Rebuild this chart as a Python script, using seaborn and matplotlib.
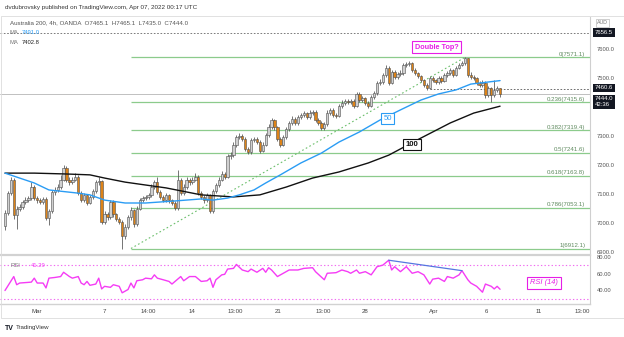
import numpy as np
import pandas as pd
import matplotlib
matplotlib.use("Agg")
import matplotlib.pyplot as plt
import seaborn as sns
from matplotlib.patches import Rectangle

sns.set_theme(style="white")
plt.rcParams['font.family'] = ['Liberation Sans', 'DejaVu Sans']

# ---------------- data (4h bars, index 0 = first visible bar) ----------------
first_open = 6990.0
closes = [7035, 7103, 7150, 7028, 7050, 7055, 7072, 7080, 7085, 7125,
          7085, 7080, 7072, 7082, 7018, 7040, 7107, 7115, 7125, 7150,
          7190, 7150, 7140, 7150, 7160, 7105, 7080, 7095, 7070, 7090,
          7110, 7140, 7145, 7005, 7030, 7020, 7072, 7030, 7015, 7005,
          6955, 6985, 7020, 7045, 6995, 7050, 7079, 7085, 7090, 7095,
          7125, 7142, 7107, 7090, 7080, 7095, 7079, 7070, 7052, 7150,
          7105, 7125, 7148, 7140, 7150, 7160, 7105, 7090, 7079, 7095,
          7040, 7110, 7130, 7150, 7170, 7160, 7230, 7235, 7270, 7295,
          7300, 7290, 7255, 7245, 7285, 7290, 7280, 7250, 7270, 7303,
          7330, 7355, 7330, 7290, 7270, 7297, 7325, 7345, 7360, 7345,
          7365, 7372, 7378, 7365, 7380, 7382, 7355, 7345, 7328, 7340,
          7380, 7390, 7372, 7370, 7405, 7415, 7420, 7418, 7420, 7405,
          7445, 7425, 7430, 7415, 7405, 7435, 7448, 7483, 7486, 7510,
          7535, 7483, 7520, 7503, 7514, 7517, 7545, 7548, 7550, 7528,
          7517, 7507, 7493, 7476, 7466, 7500, 7493, 7486, 7500, 7490,
          7510, 7517, 7528, 7510, 7535, 7545, 7552, 7569, 7510, 7505,
          7500, 7483, 7476, 7483, 7441, 7466, 7441, 7460, 7465.1, 7444]
highs = [7045, 7112, 7160, 7156, 7058, 7066, 7080, 7088, 7094, 7140,
         7130, 7092, 7086, 7090, 7088, 7048, 7115, 7124, 7134, 7165,
         7200, 7195, 7158, 7160, 7172, 7165, 7112, 7104, 7100, 7098,
         7118, 7148, 7160, 7150, 7040, 7038, 7080, 7078, 7036, 7020,
         7010, 6995, 7028, 7055, 7050, 7058, 7086, 7094, 7098, 7104,
         7134, 7150, 7160, 7114, 7096, 7104, 7100, 7084, 7076, 7183,
         7156, 7134, 7160, 7155, 7160, 7172, 7166, 7112, 7096, 7104,
         7100, 7118, 7138, 7158, 7180, 7176, 7238, 7245, 7278, 7305,
         7312, 7306, 7296, 7262, 7292, 7298, 7296, 7286, 7278, 7310,
         7340, 7362, 7360, 7336, 7296, 7305, 7332, 7352, 7368, 7366,
         7372, 7380, 7386, 7384, 7388, 7390, 7388, 7362, 7350, 7348,
         7388, 7398, 7395, 7380, 7412, 7424, 7428, 7428, 7428, 7426,
         7452, 7450, 7438, 7436, 7420, 7442, 7456, 7490, 7495, 7518,
         7545, 7540, 7528, 7526, 7522, 7526, 7552, 7556, 7558, 7555,
         7534, 7522, 7512, 7498, 7482, 7508, 7506, 7498, 7508, 7506,
         7518, 7525, 7536, 7532, 7542, 7552, 7560, 7571.1, 7570, 7522,
         7512, 7504, 7490, 7492, 7488, 7474, 7470, 7493, 7472, 7465.1]
lows = [6976, 7028, 7095, 7015, 6980, 7040, 7048, 7064, 7074, 7078,
        7078, 7070, 7064, 7066, 7010, 6993, 7035, 7098, 7108, 7118,
        7145, 7142, 7132, 7134, 7144, 7098, 7072, 7074, 7062, 7064,
        7084, 7105, 7132, 6998, 6996, 7010, 7014, 7022, 7006, 6996,
        6912.1, 6945, 6978, 7012, 6985, 6990, 7044, 7072, 7078, 7084,
        7088, 7118, 7100, 7082, 7072, 7074, 7070, 7062, 7044, 7046,
        7098, 7098, 7118, 7132, 7134, 7144, 7098, 7082, 7070, 7072,
        7034, 7036, 7104, 7124, 7144, 7152, 7154, 7222, 7228, 7262,
        7288, 7282, 7248, 7238, 7238, 7278, 7272, 7242, 7244, 7264,
        7296, 7324, 7322, 7282, 7262, 7264, 7290, 7318, 7338, 7338,
        7338, 7358, 7366, 7358, 7358, 7372, 7348, 7338, 7320, 7322,
        7334, 7372, 7365, 7362, 7364, 7398, 7408, 7410, 7410, 7398,
        7400, 7418, 7418, 7408, 7396, 7400, 7428, 7442, 7476, 7480,
        7504, 7476, 7478, 7496, 7498, 7508, 7512, 7538, 7540, 7520,
        7510, 7500, 7486, 7468, 7460, 7462, 7486, 7478, 7480, 7484,
        7486, 7504, 7512, 7504, 7506, 7530, 7540, 7546, 7504, 7498,
        7492, 7476, 7468, 7470, 7432, 7436, 7417, 7436, 7452, 7435]

# moving averages (bar index, value)
ma50_bars = [0, 5, 10, 15, 25, 29, 34, 41, 48, 58, 67, 71, 76, 80, 85, 89, 94,
             101, 108, 114, 121, 128, 135, 142, 148, 154, 159, 169]
ma50_vals = [7172, 7155, 7138, 7114, 7103, 7097, 7079, 7069, 7069, 7076, 7083,
             7079, 7086, 7097, 7114, 7138, 7166, 7207, 7241, 7279, 7314, 7355,
             7390, 7424, 7445, 7459, 7479, 7491]
ma100_bars = [0, 10, 21, 29, 34, 41, 48, 55, 67, 78, 87, 96, 105, 114, 124,
              131, 142, 152, 160, 169]
ma100_vals = [7172, 7172, 7169, 7166, 7155, 7141, 7131, 7121, 7097, 7090, 7097,
              7124, 7155, 7176, 7207, 7234, 7293, 7345, 7379, 7402.8]

# RSI(14) (bar index, value)
rsi_bars = [0, 3, 4, 5, 8, 9, 10, 11, 13, 14, 15, 17, 19, 20, 22, 23, 25, 26,
            27, 28, 29, 31, 32, 33, 34, 36, 37, 39, 40, 42, 43, 44, 45, 47, 48,
            50, 51, 52, 54, 56, 57, 60, 61, 63, 65, 67, 69, 70, 71, 72, 74, 75,
            76, 78, 79, 81, 83, 84, 86, 88, 89, 90, 91, 93, 95, 97, 100, 102,
            105, 106, 109, 110, 113, 115, 117, 118, 120, 121, 123, 125, 127,
            129, 131, 132, 133, 135, 137, 139, 141, 143, 145, 146, 148, 150,
            151, 153, 155, 156, 158, 159, 161, 163, 164, 166, 167, 168, 169]
rsi_vals = [39.8, 56.4, 46.7, 48.7, 49.5, 49.8, 54.5, 48.7, 48.7, 42.9, 54.5,
            55.3, 56.4, 61.5, 56.4, 54.5, 56.4, 48.7, 46.7, 50.6, 46.0, 47.5,
            54.5, 41.7, 44.8, 43.6, 46.7, 44.8, 37.1, 41.0, 48.7, 42.9, 51.4,
            52.6, 54.5, 53.7, 58.4, 54.5, 52.6, 50.6, 47.5, 56.4, 51.4, 56.4,
            56.4, 50.6, 51.4, 54.5, 43.6, 52.6, 58.4, 59.1, 65.3, 66.1, 70.8,
            64.2, 62.2, 65.3, 61.5, 66.1, 61.5, 66.9, 64.2, 56.4, 60.3, 64.2,
            64.2, 66.1, 66.9, 62.2, 52.6, 60.3, 61.0, 64.2, 62.2, 60.3, 64.2,
            60.3, 62.2, 58.4, 68.1, 70.0, 75.8, 64.2, 68.1, 62.2, 68.1, 60.3,
            62.2, 58.4, 47.5, 53.3, 54.5, 50.6, 56.4, 54.5, 58.4, 63.4, 52.6,
            48.7, 44.8, 37.8, 47.5, 44.8, 41.7, 44.8, 41.3]

fib_ratios = ["0", "0.236", "0.382", "0.5", "0.618", "0.786", "1"]
fib_levels = [7571.1, 7415.6, 7319.4, 7241.6, 7163.8, 7053.1, 6912.1]
fib_start_bar = 43
trend_bars = [43, 157]
trend_vals = [6912.1, 7571.1]
div_bars = [131, 156]
div_vals = [75.8, 63.4]

time_labels = ["Mar", "7", "14:00", "14", "13:00", "21", "13:00", "28",
               "Apr", "6", "11", "13:00"]
time_bars = [10.9, 34.1, 48.8, 63.8, 78.5, 93.2, 108.5, 122.9, 146.4, 164.5,
             182.3, 196.9]
price_ticks = [6900, 7000, 7100, 7200, 7300, 7400, 7500, 7600]
rsi_ticks = [40, 60, 80]

# ---------------- figure ----------------
W, H = 624, 337
fig = plt.figure(figsize=(W / 100, H / 100), dpi=100)
fig.patch.set_facecolor("white")


def rect(x0, y0, x1, y1):
    return [x0 / W, 1 - y1 / H, (x1 - x0) / W, (y1 - y0) / H]


ax = fig.add_axes(rect(0, 17, 590, 255))
axr = fig.add_axes(rect(0, 255, 590, 304), sharex=ax)

df = pd.DataFrame({"close": closes, "high": highs, "low": lows})
df["open"] = df["close"].shift(1).fillna(first_open)
df["bar"] = np.arange(len(df))
up = df["close"] >= df["open"]

XMIN, XMAX = -1.7, 199.7
ax.set_xlim(XMIN, XMAX)
ax.set_ylim(6889.7, 7710.3)
axr.set_ylim(23.8, 82.0)

GRAY_EDGE = "#4f4f4f"
ORANGE = "#dd8318"
UPFILL = "#d0d0d0"

# wicks and bodies
ax.vlines(df["bar"], df["low"], df["high"], color=GRAY_EDGE, lw=0.55, zorder=3)
body_h = (df["close"] - df["open"]).where(lambda s: s.abs() > 1.5, 1.5)
ax.bar(df["bar"], body_h, bottom=df["open"], width=0.8,
       color=np.where(up, UPFILL, ORANGE), edgecolor=GRAY_EDGE, linewidth=0.4,
       zorder=4)

# fib levels
for r, v in zip(fib_ratios, fib_levels):
    ax.hlines(v, fib_start_bar, XMAX, color="#8ccb8c", lw=0.9, zorder=1)
    ax.text(0.992, v + 3, f"{r}({v:.1f})", transform=ax.get_yaxis_transform(),
            ha="right", va="bottom", fontsize=4.4, color="#5f8a5f", zorder=2)

# horizontal reference lines
ax.axhline(7656.5, color="#666", lw=0.6, ls=(0, (2, 2)), zorder=1)
ax.axhline(7444.0, color="#b5b5b5", lw=0.6, zorder=1)
ax.hlines(7460.6, 145, XMAX, color="#555", lw=0.6, ls=(0, (2, 2)), zorder=1)

# trend line
ax.plot(trend_bars, trend_vals, color="#6cbf6c", lw=0.8, ls=(0, (1.5, 2.2)),
        zorder=2)

# moving averages
sns.lineplot(x=ma100_bars, y=ma100_vals, ax=ax, color="#111111", lw=1.0,
             zorder=5)
sns.lineplot(x=ma50_bars, y=ma50_vals, ax=ax, color="#2a9cf4", lw=1.0,
             zorder=5)

# annotations
ax.text(147.3, 7606, "Double Top?", color="#e61ee6", fontsize=5.2,
        fontweight="bold", ha="center", va="center", zorder=8,
        bbox=dict(boxstyle="square,pad=0.35", fc="white", ec="#e61ee6",
                  lw=0.8))
ax.text(130.7, 7360, "50", color="#2a9cf4", fontsize=5.6, ha="center",
        va="center", zorder=8,
        bbox=dict(boxstyle="square,pad=0.3", fc="white", ec="#2a9cf4",
                  lw=0.8))
ax.text(139.0, 7271, "100", color="#111", fontsize=5.6, fontweight="bold",
        ha="center", va="center", zorder=8,
        bbox=dict(boxstyle="square,pad=0.3", fc="white", ec="#111", lw=0.8))

# right price scale
ax.yaxis.tick_right()
ax.set_yticks(price_ticks)
ax.set_yticklabels([f"{v:.1f}" for v in price_ticks])
ax.tick_params(axis="y", length=0, pad=5, labelsize=4.2, labelcolor="#555")
ax.tick_params(axis="x", length=0, labelbottom=False)
for s in ["top", "left", "bottom"]:
    ax.spines[s].set_visible(False)
ax.spines["right"].set_color("#cfcfcf")
ax.spines["right"].set_linewidth(0.8)

box = dict(boxstyle="square,pad=0.3", fc="#131722", ec="none")
yt = ax.get_yaxis_transform()
ax.text(1.008, 7656.5, "7656.5", transform=yt, color="white", fontsize=4.3,
        va="center", ha="left", bbox=box, clip_on=False, zorder=9)
ax.text(1.008, 7466.0, "7460.6", transform=yt, color="white", fontsize=4.3,
        va="center", ha="left", bbox=box, clip_on=False, zorder=9)
ax.text(1.008, 7418.0, "7444.0\n42:36", transform=yt, color="white",
        fontsize=4.3, va="center", ha="left", linespacing=1.15, bbox=box,
        clip_on=False, zorder=9)
ax.text(1.012, 7690, "AUD", transform=yt, color="#777", fontsize=3.8,
        va="center", ha="left", clip_on=False,
        bbox=dict(boxstyle="square,pad=0.25", fc="white", ec="#bbb", lw=0.5))

# ---------------- RSI panel ----------------
sns.lineplot(x=rsi_bars, y=rsi_vals, ax=axr, color="#f53cf5", lw=1.0, zorder=4)
axr.axhline(70, color="#f06af0", lw=0.8, ls=(0, (1.2, 2)), zorder=1)
axr.axhline(30, color="#f06af0", lw=0.8, ls=(0, (1.2, 2)), zorder=1)
axr.plot(div_bars, div_vals, color="#5577e0", lw=0.9, zorder=5)
axr.text(184, 48.8, "RSI (14)", color="#e61ee6", fontsize=5.4,
         style="italic", ha="center", va="center", zorder=8,
         bbox=dict(boxstyle="square,pad=0.35", fc="white", ec="#e61ee6",
                   lw=0.8))
axr.text(0.017, 70, "RSI", transform=axr.get_yaxis_transform(), color="#777",
         fontsize=4.2, va="center", ha="left")
axr.text(0.052, 70, "41.29", transform=axr.get_yaxis_transform(),
         color="#f53cf5", fontsize=4.2, va="center", ha="left")

axr.yaxis.tick_right()
axr.set_yticks(rsi_ticks)
axr.set_yticklabels([f"{v:.2f}" for v in rsi_ticks])
axr.tick_params(axis="y", length=0, pad=5, labelsize=4.2, labelcolor="#555")
axr.set_xticks(time_bars)
axr.set_xticklabels(time_labels)
axr.tick_params(axis="x", length=0, pad=3.5, labelsize=4.4, labelcolor="#444")
axr.set_xlabel("")
axr.set_ylabel("")
ax.set_xlabel("")
ax.set_ylabel("")
axr.spines["left"].set_visible(False)
axr.spines["top"].set_color("#d2d2d2")
axr.spines["top"].set_linewidth(1.6)
axr.spines["bottom"].set_color("#d2d2d2")
axr.spines["bottom"].set_linewidth(1.0)
axr.spines["right"].set_color("#cfcfcf")
axr.spines["right"].set_linewidth(0.8)

# ---------------- header / footer ----------------
fig.text(5 / W, 1 - 8 / H,
         "dvdubrovsky published on TradingView.com, Apr 07, 2022 00:17 UTC",
         fontsize=4.5, color="#333", va="center", ha="left")
fig.text(10 / W, 1 - 23 / H,
         "Australia 200, 4h, OANDA  O7465.1  H7465.1  L7435.0  C7444.0",
         fontsize=4.4, color="#555", va="center", ha="left")
fig.text(10 / W, 1 - 33 / H, "MA", fontsize=4.2, color="#777", va="center")
fig.text(22 / W, 1 - 33 / H, "7491.0", fontsize=4.2, color="#2a9cf4",
         va="center")
fig.text(10 / W, 1 - 42 / H, "MA", fontsize=4.2, color="#777", va="center")
fig.text(22 / W, 1 - 42 / H, "7402.8", fontsize=4.2, color="#222",
         va="center")
fig.text(5 / W, 1 - 328 / H, "TV", fontsize=5.0, fontweight="bold",
         color="#131722", va="center")
fig.text(16 / W, 1 - 328 / H, "TradingView", fontsize=4.4, color="#333",
         va="center")

fig.add_artist(Rectangle((0.5 / W, 1 - 318 / H), (W - 1) / W, 302 / H,
                         transform=fig.transFigure, fill=False, ec="#dcdcdc",
                         lw=0.6))

fig.savefig("out.png", dpi=100)
